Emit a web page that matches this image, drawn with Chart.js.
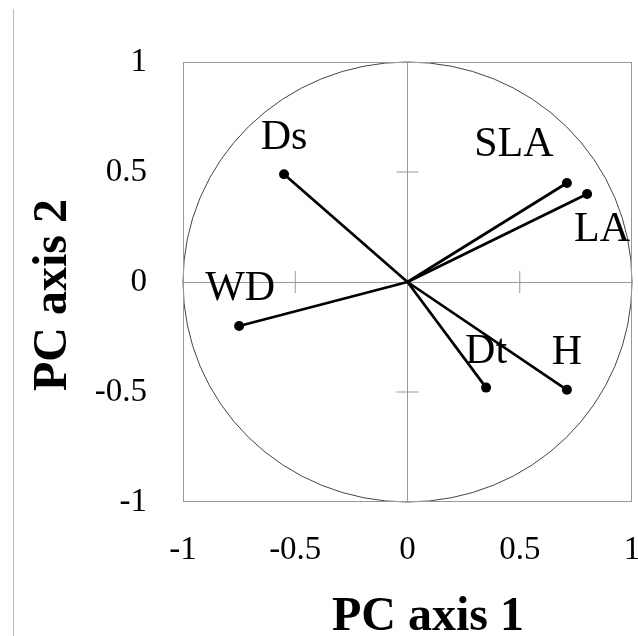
<!DOCTYPE html>
<html>
<head>
<meta charset="utf-8">
<script src="https://cdn.jsdelivr.net/npm/chart.js@4.4.1/dist/chart.umd.min.js"></script>
<style>
  html, body { margin: 0; padding: 0; background: #fff; }
  #wrap { position: relative; width: 638px; height: 636px; }
  #edge { position: absolute; left: 13px; top: 9px; bottom: 0; width: 1px; background: #bbb; }
</style>
</head>
<body>
<div id="wrap">
  <div id="edge"></div>
  <canvas id="pca" width="638" height="636"></canvas>
</div>
<script>
// loadings on the first two PC axes
const traits = ['Ds', 'SLA', 'LA', 'WD', 'Dt', 'H'];
const pc1 = [-0.55, 0.71, 0.80, -0.75, 0.35, 0.71];
const pc2 = [0.49, 0.45, 0.40, -0.20, -0.48, -0.49];
const axisTicks = [-1, -0.5, 0, 0.5, 1];
const axisTickLabels = ['-1', '-0.5', '0', '0.5', '1'];
const xTitle = 'PC axis 1';
const yTitle = 'PC axis 2';

// where each trait name sits relative to its point (px), [dx, dy to baseline]
const labelOffset = { Ds: [0, -25], SLA: [-53, -27], LA: [15, 47], WD: [1, -26], Dt: [0, -25], H: [0, -26] };

const serif = '"Liberation Serif", "Times New Roman", serif';

const datasets = traits.map((t, i) => ({
    label: t,
    data: [{ x: 0, y: 0 }, { x: pc1[i], y: pc2[i] }],
    showLine: true,
    borderColor: '#000',
    borderWidth: 2.7,
    pointRadius: [0, 5],
    pointBackgroundColor: '#000',
    pointBorderWidth: 0
}));

const decor = {
    id: 'decor',
    beforeDatasetsDraw(chart) {
        const { ctx, chartArea: a, scales: { x, y } } = chart;
        const cx = x.getPixelForValue(0), cy = y.getPixelForValue(0);
        ctx.save();
        // unit circle
        ctx.strokeStyle = '#444';
        ctx.lineWidth = 1;
        ctx.beginPath();
        ctx.ellipse(cx, cy, x.getPixelForValue(1) - cx, cy - y.getPixelForValue(1), 0, 0, Math.PI * 2);
        ctx.stroke();
        // small crosses at +-0.5 on the axes
        ctx.strokeStyle = '#999';
        ctx.beginPath();
        [-0.5, 0.5].forEach(v => {
            const px = x.getPixelForValue(v), py = y.getPixelForValue(v);
            ctx.moveTo(px, cy - 11); ctx.lineTo(px, cy + 11);
            ctx.moveTo(cx - 11, py); ctx.lineTo(cx + 11, py);
        });
        ctx.stroke();
        // frame
        ctx.strokeRect(a.left + 0.5, a.top + 0.5, a.right - a.left - 1, a.bottom - a.top - 1);
        ctx.restore();
    },
    afterDatasetsDraw(chart) {
        const { ctx, scales: { x, y } } = chart;
        ctx.save();
        ctx.fillStyle = '#000';
        ctx.font = '42px ' + serif;
        ctx.textAlign = 'center';
        ctx.textBaseline = 'alphabetic';
        traits.forEach((t, i) => {
            const o = labelOffset[t];
            ctx.fillText(t, x.getPixelForValue(pc1[i]) + o[0], y.getPixelForValue(pc2[i]) + o[1]);
        });
        // axis titles
        ctx.font = 'bold 48px ' + serif;
        ctx.fillText(xTitle, 428, 630);
        ctx.translate(66, 295);
        ctx.rotate(-Math.PI / 2);
        ctx.fillText(yTitle, 0, 0);
        ctx.restore();
    }
};

function axis(pos, size) {
    return {
        type: 'linear',
        position: pos,
        min: -1,
        max: 1,
        afterBuildTicks: s => { s.ticks = axisTicks.map(v => ({ value: v })); },
        afterFit: s => {
            if (pos === 'left') s.width = size; else s.height = size;
            s.paddingLeft = s.paddingRight = s.paddingTop = s.paddingBottom = 0;
        },
        grid: {
            drawTicks: false,
            color: c => c.tick && c.tick.value === 0 ? '#999' : 'rgba(0,0,0,0)',
            lineWidth: 1
        },
        border: { display: false },
        ticks: {
            color: '#000',
            font: { family: serif, size: 33 },
            padding: pos === 'left' ? 36 : 29,
            callback: (v) => axisTickLabels[axisTicks.indexOf(v)]
        }
    };
}

new Chart(document.getElementById('pca'), {
    type: 'scatter',
    data: { datasets },
    options: {
        responsive: false,
        animation: false,
        layout: { padding: { left: 0, top: 62, right: 6, bottom: 0 } },
        plugins: { legend: { display: false }, tooltip: { enabled: false } },
        scales: { x: axis('bottom', 134), y: axis('left', 183) }
    },
    plugins: [decor]
});
</script>
</body>
</html>
